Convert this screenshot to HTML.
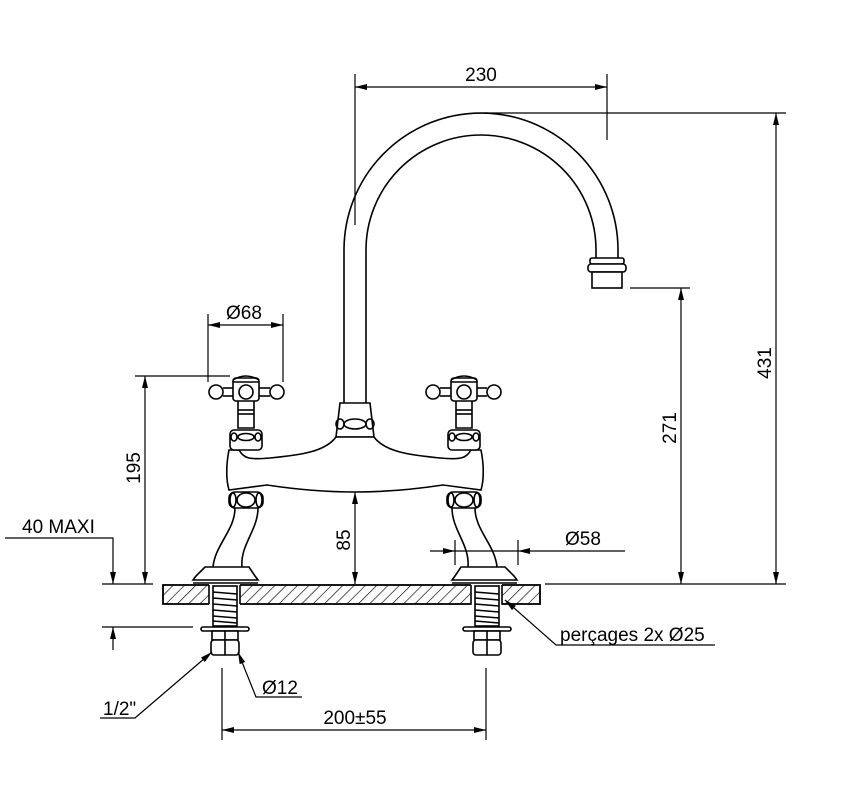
<!DOCTYPE html>
<html><head><meta charset="utf-8"><style>
html,body{margin:0;padding:0;background:#fff;}
svg{display:block;}
text{font-family:"Liberation Sans",Arial,sans-serif;font-size:19px;fill:#000;}
</style></head><body>
<svg width="841" height="786" viewBox="0 0 841 786" xmlns="http://www.w3.org/2000/svg">
<defs>
<pattern id="h" width="8" height="8" patternUnits="userSpaceOnUse" patternTransform="rotate(45)">
<line x1="0" y1="0" x2="0" y2="8" stroke="#000" stroke-width="1.3"/>
</pattern>
<marker id="a" viewBox="0 0 12 6" refX="12" refY="3" markerWidth="12" markerHeight="6" orient="auto-start-reverse" markerUnits="userSpaceOnUse">
<path d="M0,0 L12,3 L0,6 Z" fill="#000"/>
</marker>
<g id="tap">
<rect x="230" y="430" width="32" height="20" rx="4" fill="#fff"/>
<ellipse cx="246" cy="437" rx="8" ry="3.5"/>
<ellipse cx="234" cy="437" rx="3" ry="4"/>
<ellipse cx="258" cy="437" rx="3" ry="4"/>
<path d="M238,428 L238,400 L254,400 L254,428 Z" fill="#fff"/>
<line x1="238" y1="410" x2="254" y2="410"/>
<line x1="238" y1="414" x2="254" y2="414"/>
<rect x="233" y="378" width="26" height="23" rx="3" fill="#fff"/>
<path d="M233,380 Q246,372 259,380"/>
<line x1="233" y1="382" x2="259" y2="382"/>
<circle cx="246" cy="392" r="7"/>
<circle cx="216" cy="392" r="7"/>
<circle cx="277" cy="392" r="7"/>
<line x1="223" y1="388" x2="233" y2="388"/><line x1="223" y1="396" x2="233" y2="396"/>
<line x1="259" y1="388" x2="270" y2="388"/><line x1="259" y1="396" x2="270" y2="396"/>
<rect x="229" y="492" width="34" height="16" rx="6" fill="#fff"/>
<ellipse cx="246" cy="500" rx="9" ry="7"/>
<ellipse cx="233" cy="500" rx="3" ry="7"/>
<ellipse cx="259" cy="500" rx="3" ry="7"/>
<path d="M235,508 C235,530 215,545 213,567"/>
<path d="M258,508 C258,530 240,545 242,567"/>
<path d="M205,567 L249,567 L255,576 L258,580 L193,580 L196,576 Z" fill="#fff"/>
<line x1="193" y1="583" x2="258" y2="583"/>
</g>
<g id="sh">
<rect x="213" y="586" width="24" height="40" fill="#fff"/>
<path d="M213,592 L237,594 M213,598 L237,600 M213,604 L237,606 M213,610 L237,612 M213,616 L237,618 M213,621 L237,623"/>
<rect x="201" y="627" width="48" height="4" rx="2" fill="#fff"/>
<rect x="212" y="631" width="26" height="9" fill="#fff"/>
<line x1="225" y1="631" x2="225" y2="640"/>
<rect x="211" y="640" width="28" height="15" rx="3" fill="#fff"/>
<line x1="225" y1="640" x2="225" y2="655"/>
</g>
</defs>
<g fill="none" stroke="#000" stroke-width="1.6">
<path d="M344,403 L344,250 A137,137 0 0 1 618,250 L618,258"/>
<path d="M366,403 L366,250 A115,115 0 0 1 596,250 L596,258"/>
<rect x="590" y="258" width="34" height="6" rx="2" fill="#fff"/>
<rect x="588" y="264" width="38" height="8" rx="3" fill="#fff"/>
<rect x="592" y="272" width="30" height="16" fill="#fff"/>
<path d="M340,403 L370,403 L372,420 L374,437 L336,437 L338,420 Z" fill="#fff"/>
<ellipse cx="355" cy="424" rx="11" ry="5"/>
<ellipse cx="340" cy="424" rx="4" ry="5"/>
<ellipse cx="370" cy="424" rx="4" ry="5"/>
<path d="M229,450 C226,465 226,480 229,490 L267,485 C300,490 330,492 355,492 C380,492 410,490 443,485 L481,490 C484,480 484,465 481,450 L471,450 C466,458 462,460 440,458 C410,455 385,452 374,437 L336,437 C325,452 300,455 270,458 C248,460 244,458 239,450 Z" fill="#fff"/>
<use href="#tap"/>
<use href="#tap" transform="translate(710,0) scale(-1,1)"/>
<rect x="163" y="585" width="377" height="19" fill="url(#h)"/>
<rect x="209" y="584" width="31" height="22" fill="#fff" stroke="none"/>
<rect x="471" y="584" width="31" height="22" fill="#fff" stroke="none"/>
<path d="M209,585 L163,585 L163,604 L209,604 M240,585 L471,585 M240,604 L471,604 L471,585 M502,585 L540,585 L540,604 L502,604 L502,585 M240,585 L240,604 M209,585 L209,604"/>
<use href="#sh"/>
<use href="#sh" transform="translate(262,0)"/>
</g>
<g fill="none" stroke="#000" stroke-width="1.2">
<line x1="355" y1="74" x2="355" y2="225"/>
<line x1="607" y1="74" x2="607" y2="140"/>
<line x1="355" y1="87" x2="607" y2="87" marker-start="url(#a)" marker-end="url(#a)"/>
<line x1="484" y1="113" x2="786" y2="113"/>
<line x1="545" y1="584" x2="786" y2="584"/>
<line x1="776" y1="113" x2="776" y2="584" marker-start="url(#a)" marker-end="url(#a)"/>
<line x1="630" y1="288" x2="690" y2="288"/>
<line x1="681" y1="288" x2="681" y2="584" marker-start="url(#a)" marker-end="url(#a)"/>
<line x1="135" y1="376" x2="230" y2="376"/>
<line x1="145" y1="376" x2="145" y2="584" marker-start="url(#a)" marker-end="url(#a)"/>
<line x1="208" y1="314" x2="208" y2="382"/>
<line x1="283" y1="314" x2="283" y2="382"/>
<line x1="208" y1="325" x2="283" y2="325" marker-start="url(#a)" marker-end="url(#a)"/>
<path d="M5,538 L113,538 L113,584" marker-end="url(#a)"/>
<line x1="102" y1="584" x2="153" y2="584"/>
<line x1="102" y1="627" x2="193" y2="627"/>
<line x1="113" y1="650" x2="113" y2="627" marker-end="url(#a)"/>
<line x1="355" y1="492" x2="355" y2="584" marker-start="url(#a)" marker-end="url(#a)"/>
<line x1="455" y1="540" x2="455" y2="565"/>
<line x1="518" y1="540" x2="518" y2="565"/>
<line x1="430" y1="551" x2="455" y2="551" marker-end="url(#a)"/>
<line x1="625" y1="551" x2="518" y2="551" marker-end="url(#a)"/>
<line x1="455" y1="551" x2="518" y2="551"/>
<path d="M715,645 L556,645 L505,600" marker-end="url(#a)"/>
<path d="M100,718 L135,718 L212,652" marker-end="url(#a)"/>
<path d="M302,697 L256,697 L238,652" marker-end="url(#a)"/>
<line x1="222" y1="668" x2="222" y2="740"/>
<line x1="486" y1="668" x2="486" y2="740"/>
<line x1="222" y1="730" x2="486" y2="730" marker-start="url(#a)" marker-end="url(#a)"/>
</g>
<text x="481" y="81" text-anchor="middle">230</text>
<text transform="translate(771,363) rotate(-90)" text-anchor="middle">431</text>
<text transform="translate(676,428) rotate(-90)" text-anchor="middle">271</text>
<text transform="translate(140,468) rotate(-90)" text-anchor="middle">195</text>
<text transform="translate(350,540) rotate(-90)" text-anchor="middle">85</text>
<text x="226" y="319">Ø68</text>
<text x="22" y="533">40 MAXI</text>
<text x="565" y="545">Ø58</text>
<text x="560" y="641">perçages 2x  Ø25</text>
<text x="103" y="715">1/2"</text>
<text x="262" y="694">Ø12</text>
<text x="355" y="724" text-anchor="middle">200±55</text>
</svg>
</body></html>
